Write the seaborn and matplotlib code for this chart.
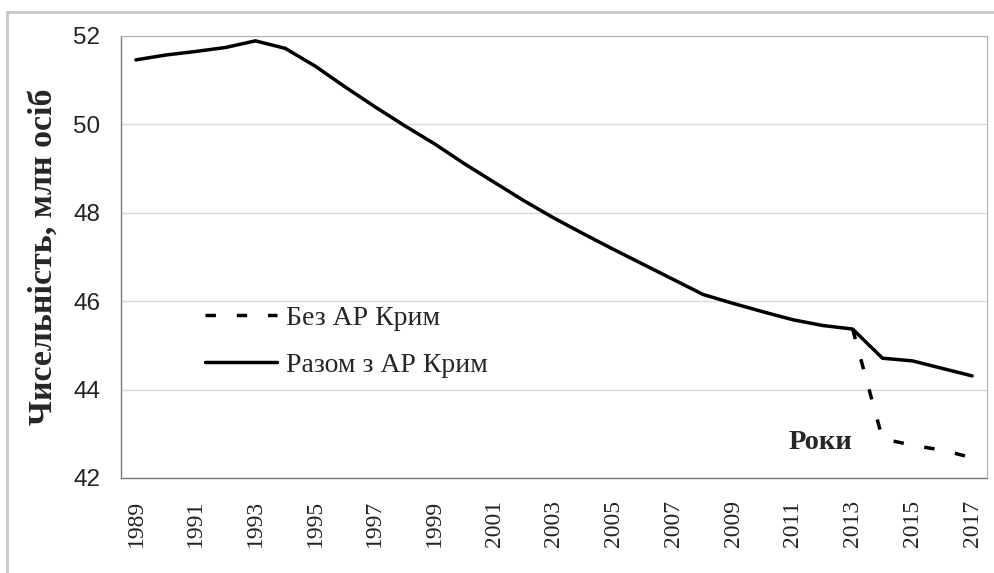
import pandas as pd
import seaborn as sns
import matplotlib.pyplot as plt
from matplotlib.patches import Rectangle

# population of Ukraine, mln persons
years = list(range(1989, 2018))
with_crimea = [51.46, 51.57, 51.65, 51.74, 51.89, 51.72, 51.32, 50.85, 50.40, 49.97,
               49.56, 49.11, 48.69, 48.27, 47.88, 47.52, 47.17, 46.83, 46.49, 46.15,
               45.95, 45.76, 45.58, 45.45, 45.37, 44.71, 44.65, 44.48, 44.31]
years_no_crimea = [2013, 2014, 2015, 2016, 2017]
without_crimea = [45.37, 42.89, 42.74, 42.63, 42.46]

label_no = "Без АР Крим"
label_with = "Разом з АР Крим"
tick_years = list(range(1989, 2018, 2))
y_ticks = [42, 44, 46, 48, 50, 52]

df = pd.concat([
    pd.DataFrame({"year": years_no_crimea, "value": without_crimea, "series": label_no}),
    pd.DataFrame({"year": years, "value": with_crimea, "series": label_with}),
], ignore_index=True)

sns.set_style("white")
plt.rcParams['font.family'] = ['Liberation Serif', 'DejaVu Serif']

fig = plt.figure(figsize=(9.95, 5.73), dpi=100)
ax = fig.add_axes([121 / 995, 95 / 573, 866 / 995, 442 / 573])

sns.lineplot(data=df, x="year", y="value", hue="series", style="series",
             palette={label_no: "black", label_with: "black"},
             dashes={label_no: (3.0, 6.0), label_with: ""},
             linewidth=2.5, ax=ax, legend=True)

ax.set_xlim(1988.5, 2017.5)
ax.set_ylim(42, 52)
ax.set_yticks(y_ticks)
ax.set_yticklabels([str(v) for v in y_ticks], family="Liberation Sans", fontsize=17.5)
ax.set_xticks(tick_years)
ax.set_xticklabels([str(y) for y in tick_years], rotation=90, fontsize=17)
ax.set_xticks([y + 0.5 for y in range(1988, 2018)], minor=True)
ax.tick_params(axis="x", which="major", length=0, pad=16, colors="#222222")
ax.tick_params(axis="x", which="minor", length=7, width=1, color="#b5b5b5", direction="out")
ax.tick_params(axis="y", length=6, width=1, color="#9a9a9a", pad=9, colors="#222222")

ax.grid(axis="y", color="#d9d9d9", linewidth=1)
ax.set_axisbelow(True)
for side in ["left", "bottom"]:
    ax.spines[side].set_color("#7a7a7a")
    ax.spines[side].set_linewidth(1)
ax.spines["top"].set_color("#b0b0b0")
ax.spines["right"].set_color("#b0b0b0")

ax.set_xlabel("")
ax.set_ylabel("Чисельність, млн осіб", fontsize=24.5, fontweight="bold", labelpad=10)

handles, labels = ax.get_legend_handles_labels()
ax.legend(handles, labels, loc="upper left", bbox_to_anchor=(0.097, 0.39),
          frameon=False, fontsize=20, handlelength=2.6, handletextpad=0.3,
          labelspacing=0.78, borderpad=0, borderaxespad=0)

ax.text(0.808, 0.081, "Роки", transform=ax.transAxes, ha="center", va="center",
        fontsize=20.5, fontweight="bold")

# outer chart border
fig.patches.append(Rectangle((7 / 995, -0.1), 1.2, 1.1 - 12 / 573, transform=fig.transFigure,
                             fill=False, edgecolor="#c8c8c8", linewidth=2))

fig.savefig("out.png", dpi=100)
